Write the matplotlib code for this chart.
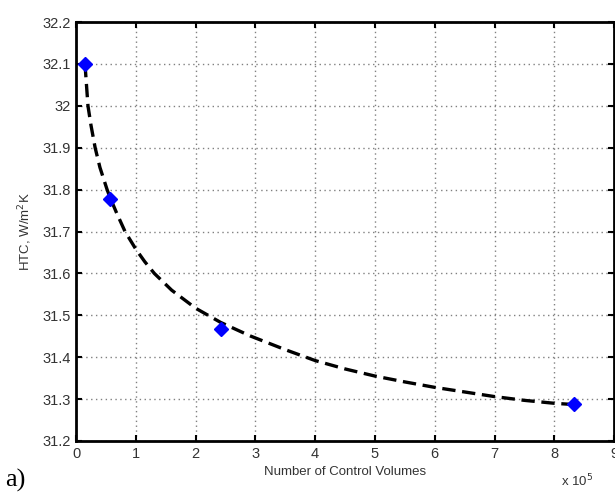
import matplotlib
matplotlib.use("Agg")
import matplotlib.pyplot as plt

# grid study: heat transfer coefficient vs mesh size (x in units of 1e5 cells)
cells = [0.15, 0.57, 2.42, 8.33]
htc = [32.1, 31.777, 31.468, 31.288]

fit_x = [0.15, 0.17, 0.20, 0.25, 0.32, 0.40, 0.52, 0.57, 0.68, 0.82, 1.0, 1.15, 1.31,
         1.6, 2.0, 2.42, 2.91, 3.5, 4.0, 4.5, 5.0, 5.5, 6.0, 6.5, 7.0, 7.5, 8.0, 8.33]
fit_y = [32.1, 32.06, 32.0, 31.954, 31.9, 31.853, 31.8, 31.781, 31.744, 31.7, 31.658, 31.628, 31.6,
         31.56, 31.517, 31.483, 31.451, 31.418, 31.392, 31.372, 31.355, 31.341, 31.328, 31.317,
         31.306, 31.297, 31.29, 31.287]

xticks = list(range(0, 10))
yticks = [31.2, 31.3, 31.4, 31.5, 31.6, 31.7, 31.8, 31.9, 32.0, 32.1, 32.2]
ytick_labels = ["31.2", "31.3", "31.4", "31.5", "31.6", "31.7", "31.8", "31.9", "32", "32.1", "32.2"]

plt.rcParams["font.family"] = ["Liberation Sans", "DejaVu Sans"]

fig = plt.figure(figsize=(6.15, 4.94), dpi=100)
ax = fig.add_axes([0.1236, 0.1073, 0.875, 0.848])

ax.plot(fit_x, fit_y, color="black", ls=(0, (4, 2)), lw=2.4, zorder=3)
ax.plot(cells, htc, ls="none", marker="D", ms=7, color="#0000ff", zorder=4)

ax.set_xlim(0, 9)
ax.set_ylim(31.2, 32.2)
ax.set_xticks(xticks)
ax.set_yticks(yticks)
ax.set_yticklabels(ytick_labels)
ax.grid(True, ls=(0, (1, 2.5)), color="#808080", lw=1.0)
ax.tick_params(direction="in", top=True, right=True, length=4, width=1.5,
               labelsize=10.5, labelcolor="#333333", pad=4)
for s in ax.spines.values():
    s.set_linewidth(2)

ax.set_xlabel("Number of Control Volumes", fontsize=9.5, color="#333333", labelpad=4)
ax.set_ylabel("HTC, W/m$^2$K", fontsize=9.5, color="#333333", labelpad=6)

fig.text(0.912, 0.015, r"x 10$^5$", fontsize=9.5, color="#333333")
fig.text(0.008, 0.015, "a)", fontsize=19, family="Liberation Serif", color="black")

fig.savefig("out.png", dpi=100)
